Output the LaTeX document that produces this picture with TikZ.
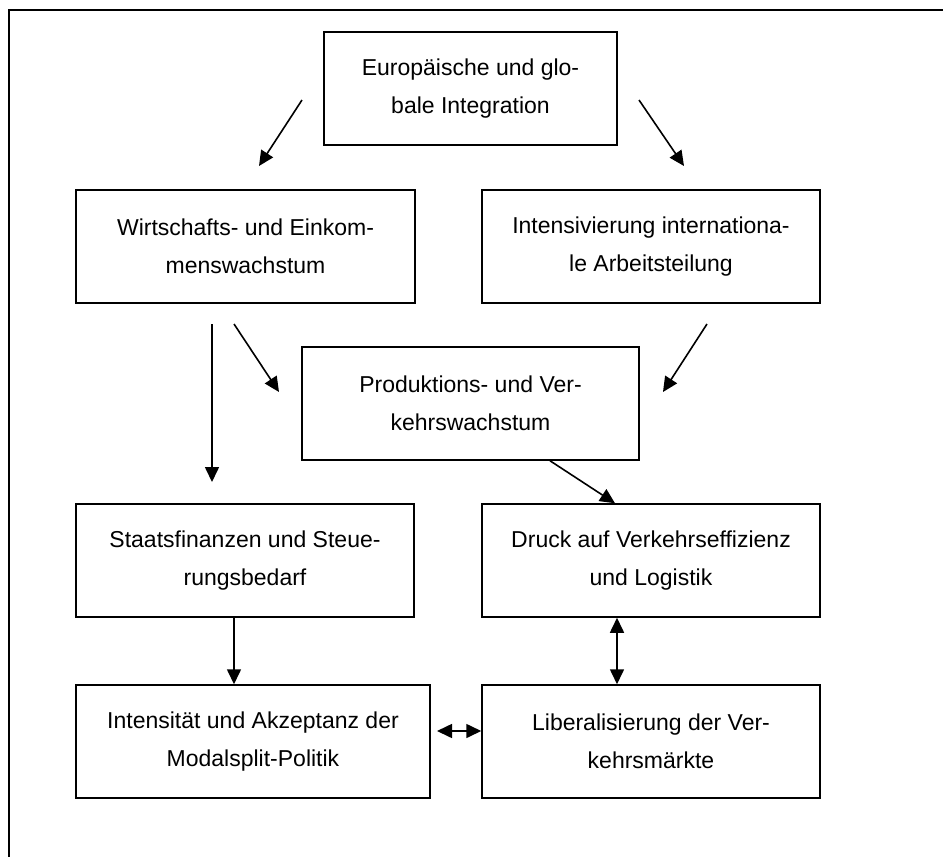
\documentclass[tikz,border=0pt]{standalone}
\usepackage{fontspec}
\setmainfont{Liberation Sans}
\usetikzlibrary{arrows.meta}
\begin{document}
\begin{tikzpicture}[x=0.5pt,y=-0.5pt,
  box/.style={draw, line width=0.75pt, inner sep=0pt, align=center,
    font=\fontsize{11.5}{19}\selectfont},
  arr/.style={line width=0.8pt, -{Triangle[length=7.5pt,width=7pt]}},
  darr/.style={line width=0.8pt, {Triangle[length=7.5pt,width=7pt]}-{Triangle[length=7.5pt,width=7pt]}},
  frame/.style={line width=0.8pt}]
\useasboundingbox (0,0) rectangle (943,857);
% open frame (top and left)
\coordinate (fa) at (9,857);
\coordinate (fb) at (9,10);
\coordinate (fc) at (943,10);
\draw[frame] (fa) -- (fb) -- (fc);
% boxes
\node[box, minimum width=146.5pt, minimum height=56.5pt] (top) at (470.5,88.5) {Europäische und glo-\\bale Integration};
\node[box, minimum width=169.5pt, minimum height=56.5pt] (wirt) at (245.5,246.5) {Wirtschafts- und Einkom-\\menswachstum};
\node[box, minimum width=169pt, minimum height=56.5pt] (inten) at (651,246.5) {Intensivierung internationa-\\le Arbeitsteilung};
\node[box, minimum width=168.5pt, minimum height=56.5pt] (prod) at (470.5,403.5) {Produktions- und Ver-\\kehrswachstum};
\node[box, minimum width=169pt, minimum height=56.5pt] (staat) at (245,560.5) {Staatsfinanzen und Steue-\\rungsbedarf};
\node[box, minimum width=169pt, minimum height=56.5pt] (druck) at (651,560.5) {Druck auf Verkehrseffizienz\\und Logistik};
\node[box, minimum width=177pt, minimum height=56.5pt] (intens) at (253,741.5) {Intensität und Akzeptanz der\\Modalsplit-Politik};
\node[box, minimum width=169pt, minimum height=56.5pt] (lib) at (651,741.5) {Liberalisierung der Ver-\\kehrsmärkte};
% free arrow ends
\coordinate (tl1) at (302,100);  \coordinate (tl2) at (259,166);
\coordinate (tr1) at (639,100);  \coordinate (tr2) at (684,166);
\coordinate (v1) at (212,324);   \coordinate (v2) at (212,482);
\coordinate (d1) at (234,324);   \coordinate (d2) at (279,392);
\coordinate (r1) at (707,324);   \coordinate (r2) at (663,392);
\coordinate (pd) at (550,0);     \coordinate (dp) at (615,0);
\coordinate (sx) at (234,0);     \coordinate (dx) at (617,0);
\coordinate (h1) at (437,731);
% connectors
\draw[arr] (tl1) -- (tl2);
\draw[arr] (tr1) -- (tr2);
\draw[arr] (v1) -- (v2);
\draw[arr] (d1) -- (d2);
\draw[arr] (r1) -- (r2);
\draw[arr] (prod.south -| pd) -- (druck.north -| dp);
\draw[arr] (staat.south -| sx) -- (intens.north -| sx);
\draw[darr] (druck.south -| dx) -- (lib.north -| dx);
\draw[darr] (h1) -- (lib.west |- h1);
\end{tikzpicture}
\end{document}
